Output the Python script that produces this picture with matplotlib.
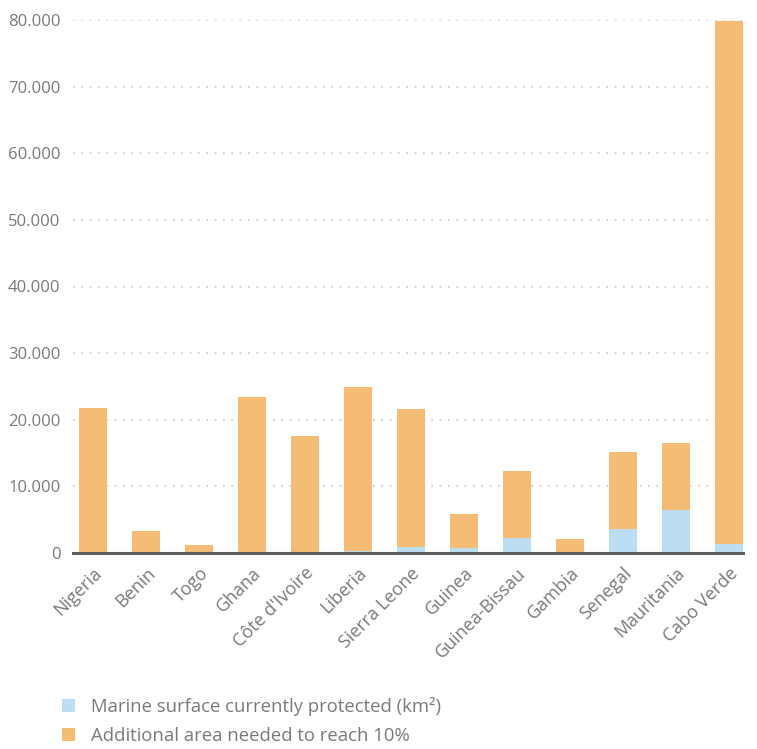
import matplotlib
matplotlib.use("Agg")
import matplotlib.pyplot as plt
from matplotlib.patches import Patch
import numpy as np

countries = ["Nigeria", "Benin", "Togo", "Ghana", "Côte d'Ivoire", "Liberia",
             "Sierra Leone", "Guinea", "Guinea-Bissau", "Gambia", "Senegal",
             "Mauritania", "Cabo Verde"]
protected = [50, 30, 10, 70, 20, 250, 850, 700, 2250, 60, 3550, 6450, 1350]
totals = [21700, 3260, 1150, 23350, 17500, 24850, 21550, 5800, 12250, 2050, 15100, 16450, 79900]
additional = [t - p for t, p in zip(totals, protected)]
yticks = [0, 10000, 20000, 30000, 40000, 50000, 60000, 70000, 80000]
ytick_labels = ["0", "10.000", "20.000", "30.000", "40.000", "50.000", "60.000", "70.000", "80.000"]
legend_labels = ["Marine surface currently protected (km²)", "Additional area needed to reach 10%"]

BLUE = "#BCDDF2"
ORANGE = "#F4BC74"
TXT = "#7a7a7a"

plt.rcParams['font.family'] = ['Open Sans', 'DejaVu Sans']

fig = plt.figure(figsize=(7.57, 7.49), dpi=100)
ax = fig.add_axes([73/757, 1 - 553/749, (743 - 73)/757, (553 - 20)/749])

x = np.arange(len(countries))
w = 0.53
ax.bar(x, protected, w, color=BLUE, zorder=2)
ax.bar(x, additional, w, bottom=protected, color=ORANGE, zorder=2)

ax.set_xlim(-0.38, 12.27)
ax.set_ylim(0, 80000)
ax.set_yticks(yticks)
ax.set_yticklabels(ytick_labels, color=TXT, fontsize=12)
ax.tick_params(axis='y', length=0, pad=9)
ax.grid(axis='y', color="#c8c8c8", linestyle=(0, (1, 4)), linewidth=1.2, zorder=0)
ax.set_axisbelow(True)

ax.set_xticks(x)
ax.set_xticklabels(countries, rotation=45, ha='right', rotation_mode='anchor',
                   color=TXT, fontsize=13)
ax.tick_params(axis='x', length=0, pad=8)

for s in ['top', 'right', 'left']:
    ax.spines[s].set_visible(False)
ax.spines['bottom'].set_color("#5f5f5f")
ax.spines['bottom'].set_linewidth(2.2)
ax.spines['bottom'].set_zorder(3)

handles = [Patch(facecolor=BLUE, edgecolor='none'), Patch(facecolor=ORANGE, edgecolor='none')]
leg = fig.legend(handles, legend_labels, loc='lower left', bbox_to_anchor=(0.065, -0.012),
                 frameon=False, fontsize=13.3, handlelength=0.7, handleheight=0.7,
                 handletextpad=0.85, labelspacing=0.62, borderaxespad=0.3)
for t in leg.get_texts():
    t.set_color(TXT)

fig.savefig("out.png", dpi=100)
